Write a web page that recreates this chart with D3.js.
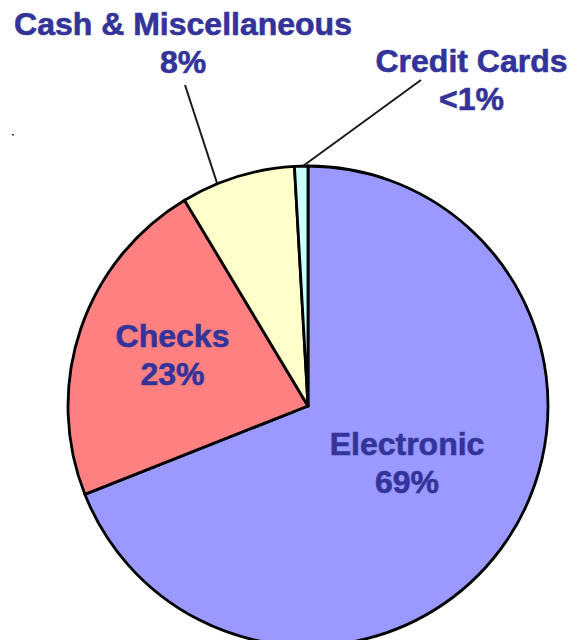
<!DOCTYPE html>
<html>
<head>
<meta charset="utf-8">
<script src="https://cdn.jsdelivr.net/npm/d3@7"></script>
<style>
  html, body { margin: 0; padding: 0; background: #fff; }
  svg { display: block; }
</style>
</head>
<body>
<svg id="chart" width="578" height="640"></svg>
<script>
// ---- Data ----
const categories = ["Electronic", "Checks", "Cash & Miscellaneous", "Credit Cards"];
const values = [69.0, 22.4, 7.7, 0.9];
const valueLabels = ["69%", "23%", "8%", "<1%"];
const colors = ["#9999FF", "#FF8080", "#FFFFCC", "#CCFFFF"];

// ---- Layout ----
const W = 578, H = 640;
const cx = 308, cy = 406, R = 240;
const textColor = "#333399";
const fontSize = 32;
const lineGap = 38;

// label anchors: [x, first baseline y]
const labelPos = [[407, 455], [172.5, 347], [183, 35], [471.5, 72]];
// leader lines (only for outside labels): [x1,y1,x2,y2]
const leaders = [null, null, [185, 85, 217, 183], [421, 80, 303, 166]];

const svg = d3.select("#chart");

const pie = d3.pie().sort(null).value(d => d)
  .startAngle(0).endAngle(2 * Math.PI);
const arcs = pie(values);
const arc = d3.arc().innerRadius(0).outerRadius(R);

const g = svg.append("g").attr("transform", `translate(${cx},${cy})`);
g.selectAll("path.slice")
  .data(arcs)
  .join("path")
  .attr("class", "slice")
  .attr("d", arc)
  .attr("fill", (d, i) => colors[i])
  .attr("stroke", "#000")
  .attr("stroke-width", 2.8)
  .attr("stroke-linejoin", "round");

// leader lines
svg.selectAll("line.leader")
  .data(leaders.filter(d => d))
  .join("line")
  .attr("class", "leader")
  .attr("x1", d => d[0]).attr("y1", d => d[1])
  .attr("x2", d => d[2]).attr("y2", d => d[3])
  .attr("stroke", "#1a1a1a")
  .attr("stroke-width", 2);

// labels
const lab = svg.selectAll("text.label")
  .data(categories)
  .join("text")
  .attr("class", "label")
  .attr("x", (d, i) => labelPos[i][0])
  .attr("y", (d, i) => labelPos[i][1])
  .attr("text-anchor", "middle")
  .attr("font-family", "'Liberation Sans', Arial, sans-serif")
  .attr("font-weight", "bold")
  .attr("font-size", fontSize)
  .attr("fill", textColor)
  .attr("stroke", textColor)
  .attr("stroke-width", 0.6);
lab.append("tspan")
  .attr("x", (d, i) => labelPos[i][0])
  .text(d => d);
lab.append("tspan")
  .attr("x", (d, i) => labelPos[i][0])
  .attr("dy", lineGap)
  .text((d, i) => valueLabels[i]);

// small stray mark present in the original image
svg.append("rect").attr("x", 12).attr("y", 134).attr("width", 2).attr("height", 1.5).attr("fill", "#333");
</script>
</body>
</html>
